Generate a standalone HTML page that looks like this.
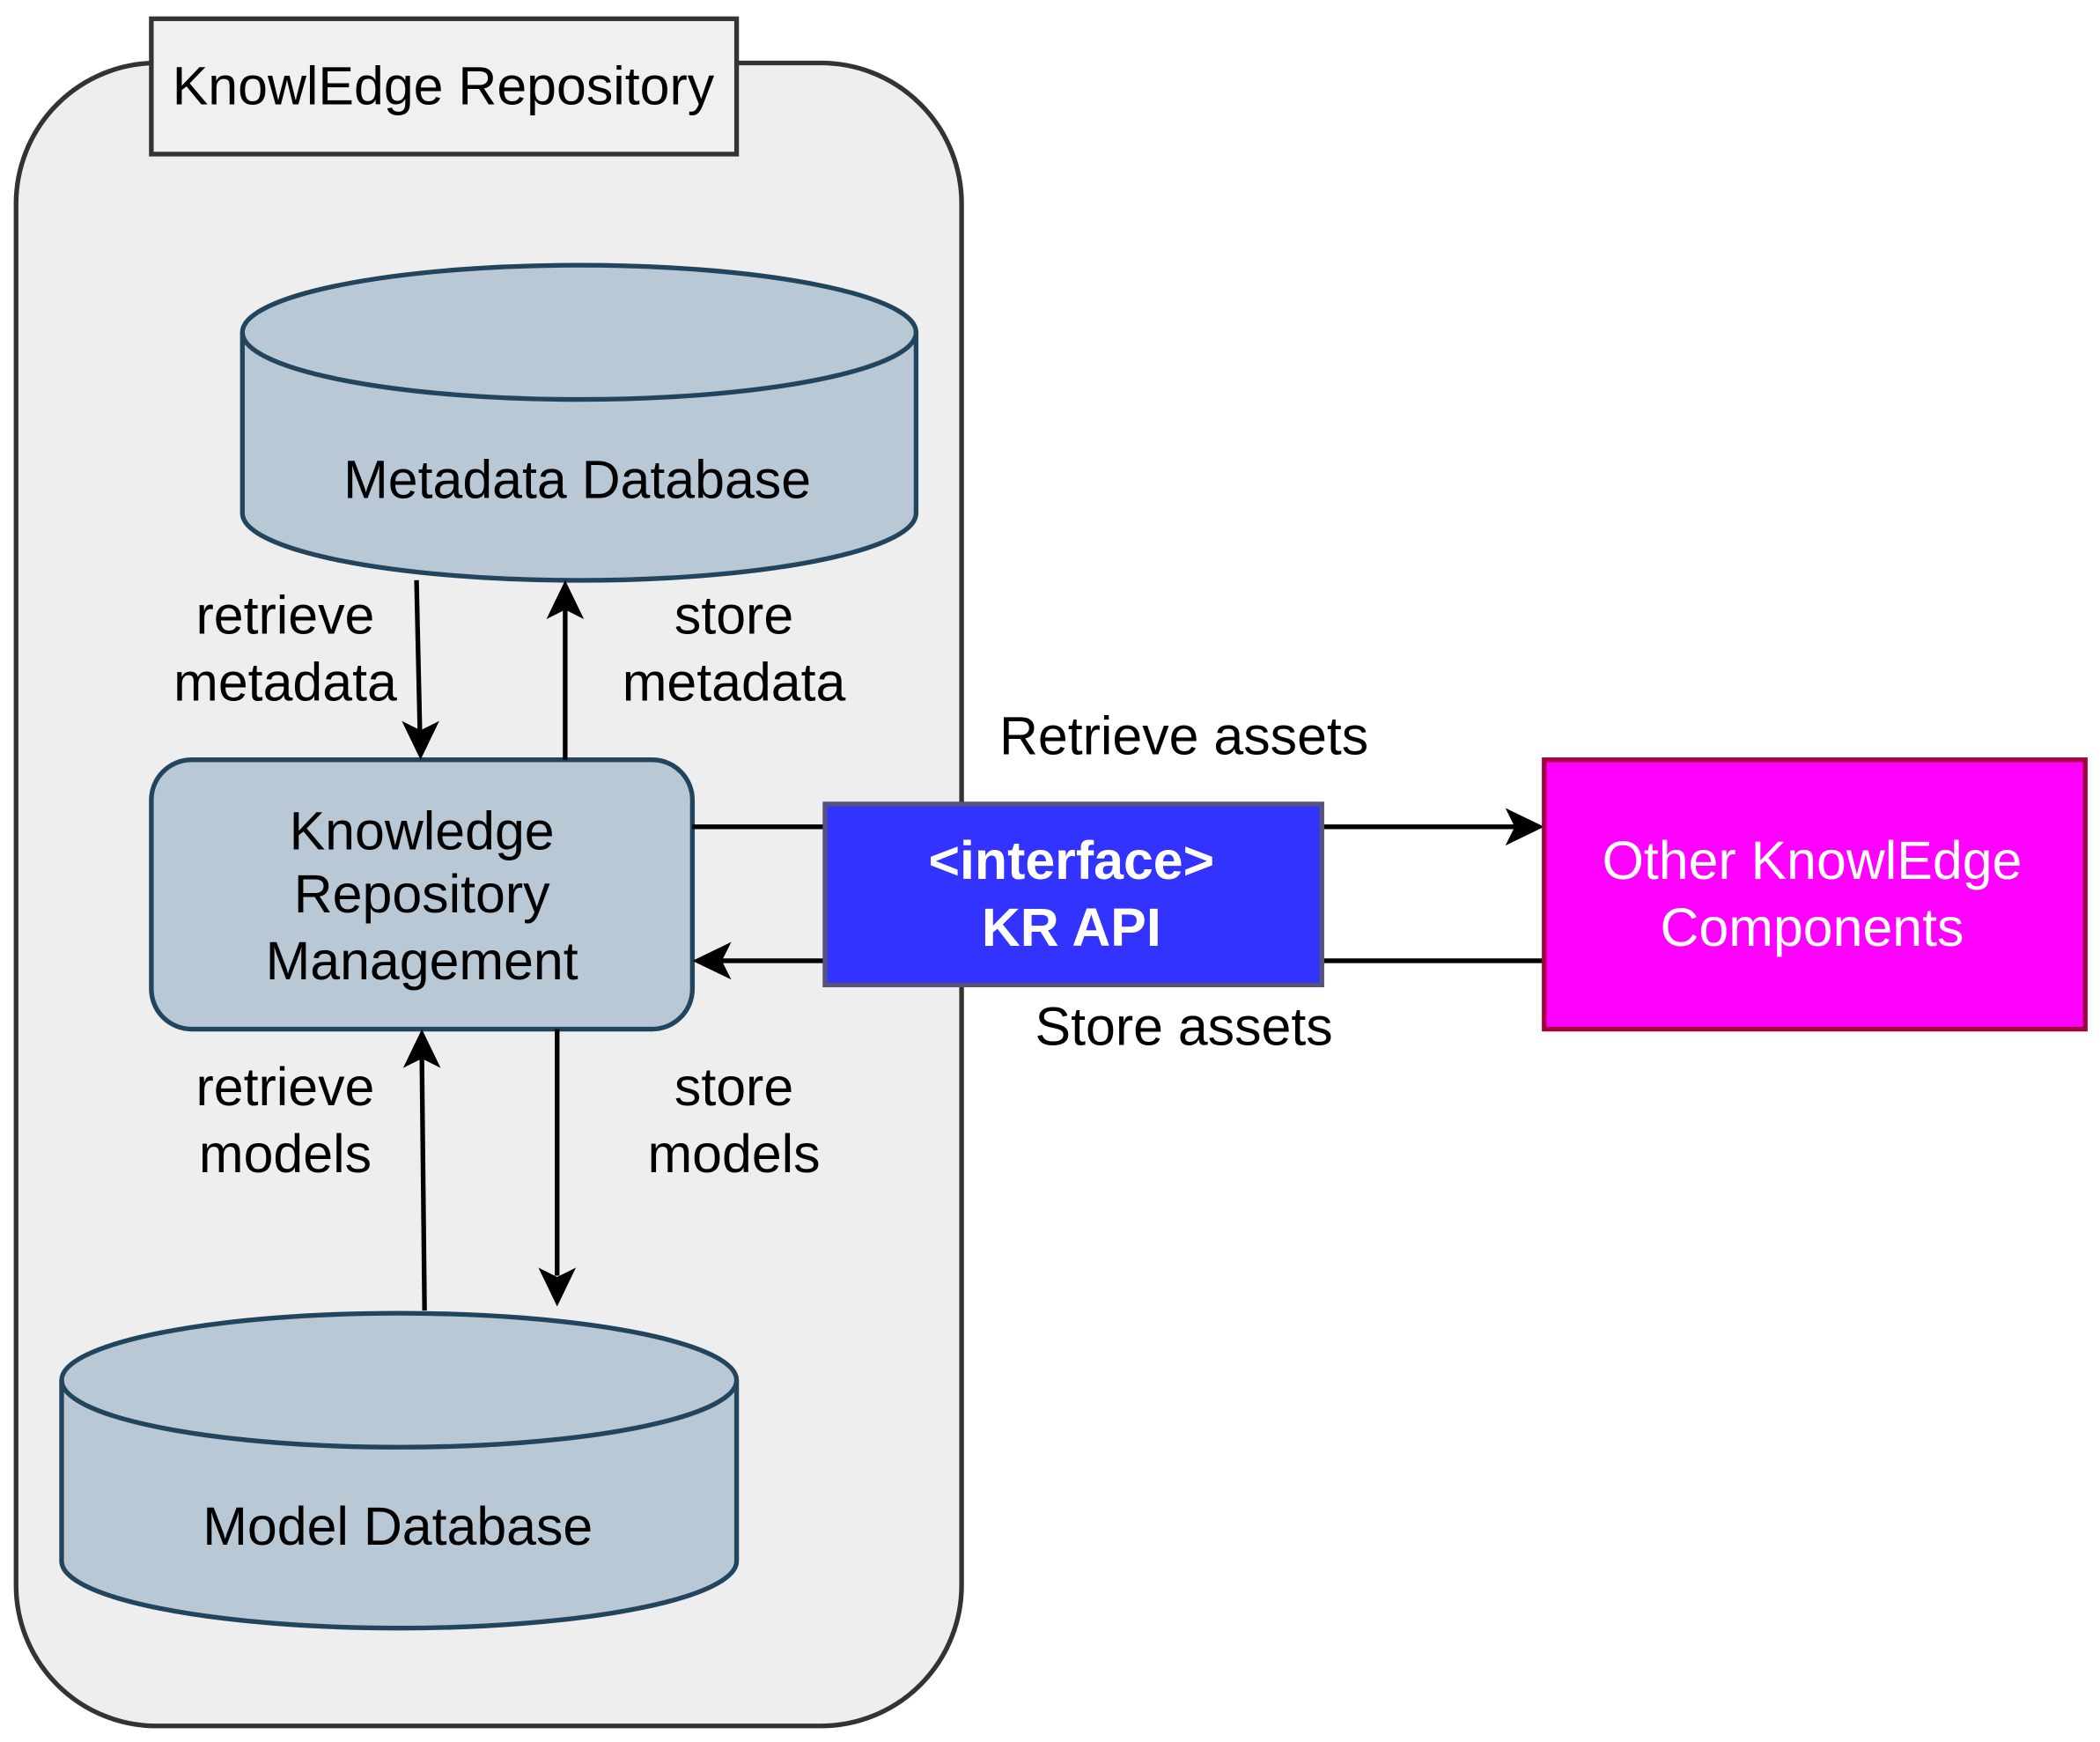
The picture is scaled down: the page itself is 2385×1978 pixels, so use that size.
<!DOCTYPE html>
<html><head><meta charset="utf-8"><style>html,body{margin:0;padding:0;background:#fff}svg{display:block}</style></head>
<body>
<svg width="2385" height="1978" viewBox="0 0 1568 1300" preserveAspectRatio="none" xmlns="http://www.w3.org/2000/svg" font-family="Liberation Sans, sans-serif" font-size="40">
<rect x="12" y="47" width="706" height="1241" rx="105" fill="#eeeeee" stroke="#333" stroke-width="3.5"/>
<rect x="113" y="14" width="437" height="101" fill="#f0f0f0" stroke="#333" stroke-width="3.5"/>
<text x="331" y="64" text-anchor="middle" dominant-baseline="central">KnowlEdge Repository</text>

<path d="M181 248 A251 50 0 0 1 684 248 L684 383 A251 50 0 0 1 181 383 Z" fill="#b8c8d4" stroke="#23445d" stroke-width="3.5"/>
<path d="M181 248 A251 50 0 0 0 684 248" fill="none" stroke="#23445d" stroke-width="3.5"/>
<text x="431" y="358" text-anchor="middle" dominant-baseline="central">Metadata Database</text>

<path d="M46 1030 A252 50 0 0 1 550 1030 L550 1165 A252 50 0 0 1 46 1165 Z" fill="#b8c8d4" stroke="#23445d" stroke-width="3.5"/>
<path d="M46 1030 A252 50 0 0 0 550 1030" fill="none" stroke="#23445d" stroke-width="3.5"/>
<text x="297" y="1139" text-anchor="middle" dominant-baseline="central">Model Database</text>

<rect x="113" y="567" width="404" height="201" rx="30" fill="#b8c8d4" stroke="#23445d" stroke-width="3.5"/>
<text x="315" y="620" text-anchor="middle" dominant-baseline="central">Knowledge</text>
<text x="315" y="667" text-anchor="middle" dominant-baseline="central">Repository</text>
<text x="315" y="717" text-anchor="middle" dominant-baseline="central">Management</text>

<g stroke="#000" stroke-width="3.5" fill="none">
<line x1="311" y1="433" x2="313.5" y2="545"/>
<line x1="422" y1="567" x2="422" y2="455"/>
<line x1="317" y1="978" x2="315" y2="790"/>
<line x1="416" y1="768" x2="416" y2="952"/>
<line x1="517" y1="617" x2="1131" y2="617"/>
<line x1="1153" y1="717" x2="539" y2="717"/>
</g>
<g fill="#000">
<path d="M314 567 L300 538 L314 545 L328 538 Z"/>
<path d="M422 433 L408 462 L422 455 L436 462 Z"/>
<path d="M315 768 L301 797 L315 790 L329 797 Z"/>
<path d="M416 975 L402 946 L416 953 L430 946 Z"/>
<path d="M1153 617 L1124 603 L1131 617 L1124 631 Z"/>
<path d="M517 717 L546 703 L539 717 L546 731 Z"/>
</g>

<g text-anchor="middle" dominant-baseline="central">
<text x="213" y="459">retrieve</text><text x="213" y="509">metadata</text>
<text x="548" y="459">store</text><text x="548" y="509">metadata</text>
<text x="213" y="811">retrieve</text><text x="213" y="861">models</text>
<text x="548" y="811">store</text><text x="548" y="861">models</text>
<text x="884" y="549">Retrieve assets</text>
<text x="884" y="766">Store assets</text>
</g>

<rect x="616" y="600" width="371" height="135" fill="#3333ff" stroke="#56517e" stroke-width="3.5"/>
<text x="800" y="642" text-anchor="middle" dominant-baseline="central" fill="#fff" font-weight="bold">&lt;interface&gt;</text>
<text x="800" y="692" text-anchor="middle" dominant-baseline="central" fill="#fff" font-weight="bold">KR API</text>

<rect x="1153" y="567" width="404" height="201" fill="#ff00ff" stroke="#a50040" stroke-width="3.5"/>
<text x="1353" y="642" text-anchor="middle" dominant-baseline="central" fill="#fff">Other KnowlEdge</text>
<text x="1353" y="692" text-anchor="middle" dominant-baseline="central" fill="#fff">Components</text>
</svg>
</body></html>
